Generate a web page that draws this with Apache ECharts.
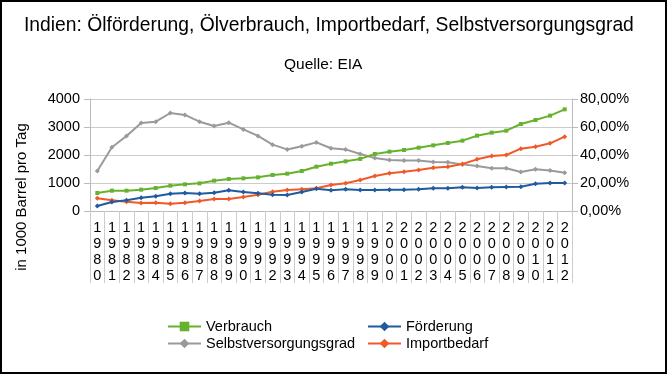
<!DOCTYPE html>
<html>
<head>
<meta charset="utf-8">
<script src="https://cdn.jsdelivr.net/npm/echarts@6/dist/echarts.min.js"></script>
<style>
  html, body { margin: 0; padding: 0; background: #fff; }
  #chart { width: 668px; height: 375px; }
</style>
</head>
<body>
<div id="chart"></div>
<script>
// Daten
const jahre = ['1980','1981','1982','1983','1984','1985','1986','1987','1988','1989','1990',
  '1991','1992','1993','1994','1995','1996','1997','1998','1999','2000','2001','2002',
  '2003','2004','2005','2006','2007','2008','2009','2010','2011','2012'];
const verbrauch = [643,726,726,762,821,905,952,988,1083,1143,1167,1202,1286,1333,1429,1583,
  1690,1774,1860,2036,2119,2179,2262,2345,2429,2512,2690,2798,2869,3107,3250,3405,3631];
const foerderung = [179,321,381,476,524,619,643,619,655,738,679,631,583,571,679,798,738,774,
  750,750,762,762,774,810,810,845,821,845,857,869,976,1000,1000];
const importbedarf = [452,381,333,286,298,262,298,357,429,429,500,583,690,750,774,810,929,988,
  1107,1250,1345,1405,1464,1548,1583,1679,1845,1964,2000,2226,2298,2417,2655];
const selbstversorgung = [0.286,0.455,0.536,0.629,0.638,0.70,0.686,0.638,0.607,0.631,0.583,
  0.536,0.474,0.44,0.462,0.49,0.448,0.44,0.407,0.379,0.364,0.36,0.36,0.35,0.348,0.333,0.321,
  0.305,0.305,0.279,0.298,0.29,0.274];

const schrift = '"Liberation Sans", Arial, sans-serif';

const chart = echarts.init(document.getElementById('chart'));

function linie(name, data, farbe, symbol, achse) {
  return {
    name: name,
    type: 'line',
    data: data,
    yAxisIndex: achse,
    symbol: symbol,
    symbolSize: symbol === 'rect' ? 4 : 5,
    showSymbol: true,
    lineStyle: { width: 2, color: farbe },
    itemStyle: { color: farbe },
    animation: false
  };
}

chart.setOption({
  backgroundColor: '#fff',
  textStyle: { fontFamily: schrift },
  title: [
    {
      text: 'Indien: Ölförderung, Ölverbrauch, Importbedarf, Selbstversorgungsgrad',
      left: 19, top: 11,
      textStyle: { fontSize: 19.3, fontWeight: 'normal', color: '#000', fontFamily: schrift }
    },
    {
      text: 'Quelle: EIA',
      left: 279, top: 52,
      textStyle: { fontSize: 15.5, fontWeight: 'normal', color: '#000', fontFamily: schrift }
    }
  ],
  legend: [
    {
      data: ['Verbrauch', 'Selbstversorgungsgrad'],
      orient: 'vertical', left: 162, top: 314,
      itemWidth: 33, itemHeight: 12, itemGap: 2,
      textStyle: { fontSize: 14.5, color: '#000', fontFamily: schrift }
    },
    {
      data: ['Förderung', 'Importbedarf'],
      orient: 'vertical', left: 362, top: 314,
      itemWidth: 33, itemHeight: 12, itemGap: 2,
      textStyle: { fontSize: 14.5, color: '#000', fontFamily: schrift }
    }
  ],
  grid: { left: 90, right: 96, top: 99, height: 112 },
  xAxis: {
    type: 'category',
    data: jahre,
    boundaryGap: true,
    axisLine: { lineStyle: { color: '#bbb' } },
    axisTick: { show: true, interval: 0, length: 72, lineStyle: { color: '#ccc' } },
    axisLabel: {
      interval: 0, margin: 9, fontSize: 14.5, lineHeight: 16, color: '#000',
      formatter: v => v.split('').join('\n')
    },
    splitLine: { show: false }
  },
  yAxis: [
    {
      type: 'value', min: 0, max: 4000, interval: 1000,
      axisLine: { show: true, lineStyle: { color: '#bbb' } },
      axisTick: { show: true, length: 6, lineStyle: { color: '#bbb' } },
      axisLabel: { fontSize: 14.5, color: '#000', margin: 10, formatter: v => String(v) },
      splitLine: { lineStyle: { color: '#ccc' } }
    },
    {
      type: 'value', min: 0, max: 0.8, interval: 0.2,
      axisLine: { show: true, lineStyle: { color: '#bbb' } },
      axisTick: { show: true, length: 6, lineStyle: { color: '#bbb' } },
      axisLabel: {
        fontSize: 14.5, color: '#000', margin: 8,
        formatter: v => (v * 100).toFixed(2).replace('.', ',') + '%'
      },
      splitLine: { show: false }
    }
  ],
  graphic: [
    {
      type: 'text', x: 22, y: 197, rotation: Math.PI / 2,
      style: {
        text: 'in 1000 Barrel pro Tag', fontSize: 15, fill: '#000',
        fontFamily: schrift, align: 'center', verticalAlign: 'middle'
      }
    },
    {
      type: 'rect', silent: true,
      shape: { x: 1, y: 1, width: 665, height: 372 },
      style: { fill: null, stroke: '#000', lineWidth: 2 }
    }
  ],
  series: [
    linie('Selbstversorgungsgrad', selbstversorgung, '#9a9a9a', 'diamond', 1),
    linie('Importbedarf', importbedarf, '#f05a28', 'diamond', 0),
    linie('Förderung', foerderung, '#1f5b9e', 'diamond', 0),
    linie('Verbrauch', verbrauch, '#66b22e', 'rect', 0)
  ]
});
</script>
</body>
</html>
